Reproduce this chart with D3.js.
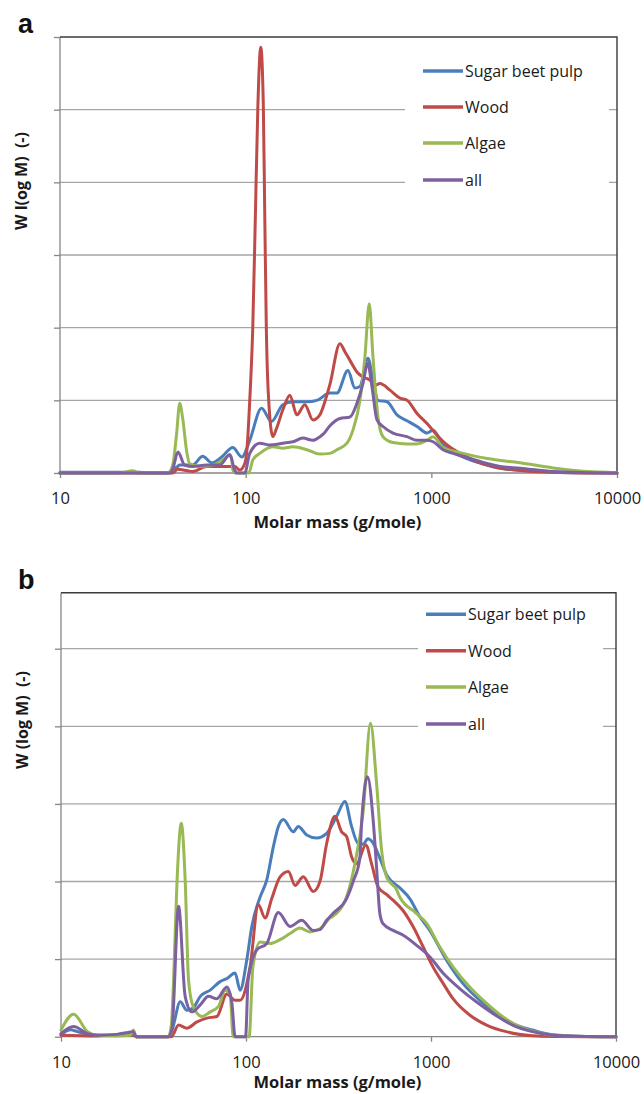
<!DOCTYPE html>
<html>
<head>
<meta charset="utf-8">
<script src="https://cdn.jsdelivr.net/npm/d3@7"></script>
<style>
  html, body { margin: 0; padding: 0; background: #fff; }
  svg { display: block; }
  text { white-space: pre; }
</style>
</head>
<body>
<svg id="chart" width="644" height="1094"></svg>
<script>
// ---------- data (M in g/mole, W(log M) in gridline units) ----------
const seriesNames = ["Sugar beet pulp", "Wood", "Algae", "all"];
const seriesColors = ["#4a7ebb", "#be4b48", "#98b954", "#7d60a0"];
const xTickValues = [10, 100, 1000, 10000];
const xTickLabels = ["10", "100", "1000", "10000"];
const panelLabels = ["a", "b"];
const yTitles = ["W l(og M)  (-)", "W (log M)  (-)"];
const xTitle = "Molar mass (g/mole)";

// panel a
const aSugar = [[10,0.01],[26.9,0.01],[30,0],[38,0],[40.4,0.05],[43,0.09],[44.1,0.11],[51.8,0.11],[58.7,0.23],[65.7,0.14],[74.3,0.22],[85.2,0.35],[95.3,0.22],[105.2,0.45],[121.7,0.89],[137.8,0.71],[158.6,0.94],[179.5,0.98],[213.6,0.98],[241.8,1.0],[284.3,1.1],[310.1,1.1],[355.4,1.41],[387.7,1.17],[412.5,1.19],[455.6,1.58],[484.8,1.28],[515.9,1.0],[576.9,0.98],[653.2,0.8],[739.6,0.72],[837.5,0.64],[948.5,0.55],[1022,0.59],[1157,0.385],[1310,0.29],[1618,0.18],[1998,0.11],[2348,0.065],[3009,0.04],[4534,0.012],[6918,0.003],[10000,0]];
const aWood = [[10,0],[38,0],[40.4,0],[43,0.05],[48.7,0.03],[51.8,0.02],[61.7,0.09],[79.1,0.09],[87.3,0.09],[92.9,0.04],[98.9,0.13],[101.4,0.3],[105.2,1.0],[109.2,2.0],[112.7,3.5],[116.2,5.0],[120.6,5.86],[124.4,5.1],[126.8,3.5],[129.2,2.0],[132.4,1.1],[140.1,0.5],[146,0.6],[158.6,0.87],[173,1.07],[188.7,0.8],[208.4,0.94],[230.1,0.73],[251,0.8],[260.6,0.9],[284.3,1.22],[321.9,1.78],[342.4,1.67],[364.4,1.55],[397.4,1.39],[428.2,1.32],[467,1.28],[497,1.21],[528.9,1.23],[598.8,1.14],[678,1.03],[739.6,1.0],[837.5,0.82],[948.5,0.68],[1074,0.52],[1216,0.385],[1429,0.27],[1765,0.155],[2348,0.07],[3009,0.035],[4534,0.01],[6918,0],[10000,0]];
const aAlgae = [[10,0],[20.9,0],[24.6,0.03],[26.9,0],[38,0],[40.4,0.1],[42.5,0.55],[44.1,0.96],[45.8,0.75],[48.1,0.3],[49.9,0.13],[56.6,0.09],[64,0.1],[72.5,0.15],[77.1,0.2],[82.1,0.25],[84.1,0.2],[85.2,0.05],[87.3,0],[104,0],[109.2,0.18],[119.2,0.27],[140.1,0.36],[158.6,0.34],[179.5,0.36],[213.6,0.32],[251,0.26],[284.3,0.27],[310.1,0.32],[351.1,0.41],[378.2,0.59],[412.5,1.0],[438.9,1.6],[463,2.33],[484.8,1.6],[515.9,0.77],[548.9,0.5],[621.5,0.42],[739.6,0.4],[837.5,0.4],[948.5,0.45],[1022,0.5],[1157,0.35],[1429,0.28],[1998,0.2],[3009,0.14],[4534,0.07],[6918,0.02],[10000,0.005]];
const aAll = [[10,0],[39,0],[40.4,0.05],[43.2,0.29],[46.9,0.11],[51.8,0.09],[61.7,0.11],[72.5,0.11],[82.1,0.25],[87.3,0.04],[89.5,0],[98.9,0],[105.2,0.27],[119.2,0.41],[134.9,0.385],[158.6,0.41],[179.5,0.43],[203.3,0.48],[230.1,0.45],[251,0.5],[260.6,0.53],[284.3,0.65],[321.9,0.75],[364.4,0.77],[397.4,0.96],[428.2,1.23],[454,1.51],[478.8,1.19],[509.5,0.73],[548.9,0.64],[621.5,0.55],[739.6,0.5],[837.5,0.45],[948.5,0.45],[1022,0.43],[1157,0.32],[1310,0.27],[1618,0.2],[1998,0.13],[2348,0.09],[3009,0.065],[4534,0.02],[6918,0.005],[10000,0]];

// panel b
const bSugar = [[10,0.03],[11.3,0.09],[11.7,0.08],[13.9,0.03],[15.7,0.02],[20,0.02],[23.7,0.04],[24.6,0.05],[25.5,0],[38,0],[40,0.1],[44.1,0.45],[47.9,0.34],[51.8,0.37],[56.6,0.52],[64,0.6],[72.5,0.71],[78.8,0.75],[87.3,0.82],[92.9,0.6],[101,0.99],[107.5,1.42],[119.2,1.8],[129.5,2.02],[140.6,2.45],[149.6,2.71],[159.1,2.8],[180.2,2.64],[191.7,2.71],[212.8,2.6],[241,2.56],[272.9,2.62],[309,2.84],[342.4,3.03],[372.1,2.71],[404,2.49],[430,2.48],[455.6,2.55],[484.8,2.5],[528.9,2.3],[576.9,2.08],[678,1.92],[767.7,1.78],[869,1.55],[984.6,1.37],[1211,0.99],[1483,0.69],[1832,0.47],[2254,0.3],[2759,0.17],[3537,0.086],[4534,0.026],[6918,0.004],[10000,0]];
const bWood = [[10,0.02],[15.7,0.01],[20,0.02],[24.6,0.02],[25.5,0],[38,0],[39.5,0],[43.2,0.15],[47.9,0.11],[54.3,0.19],[61.5,0.24],[69.6,0.26],[78.8,0.55],[87.3,0.47],[92.9,0.47],[105.2,0.9],[116.7,1.7],[126.8,1.53],[137.8,1.78],[152.8,2.06],[169.4,2.13],[184.1,1.95],[204,2.06],[230.9,1.87],[251,2.0],[272.9,2.49],[302.5,2.84],[328.7,2.64],[349.7,2.58],[372.1,2.32],[396,2.23],[444.5,2.47],[477,2.23],[517.8,1.93],[576.9,1.83],[624,1.76],[704,1.63],[800,1.42],[906,1.16],[1025,0.9],[1161,0.69],[1315,0.49],[1618,0.28],[1998,0.15],[2552,0.065],[3537,0.013],[4534,0.003],[10000,0]];
const bAlgae = [[10,0.086],[11.7,0.29],[13.9,0.065],[15.7,0.02],[20,0.01],[23.7,0.02],[24.6,0.086],[25.5,0],[38,0],[39.5,0.15],[40.6,0.73],[42.4,2.02],[44.7,2.75],[46.9,2.02],[48.9,0.73],[51.8,0.39],[57.8,0.26],[64,0.32],[71,0.39],[77.1,0.6],[82.1,0.55],[85.2,0],[104,0],[109,0.9],[119.2,1.22],[134.9,1.2],[152.8,1.25],[173,1.33],[195.9,1.4],[221.7,1.35],[251,1.39],[284.3,1.53],[309,1.59],[349.7,1.8],[387.7,2.23],[430,2.9],[471,4.04],[507.7,3.27],[540.3,2.41],[576.9,2.05],[650,1.9],[678,1.8],[834,1.59],[947,1.46],[1114,1.16],[1315,0.9],[1618,0.64],[1998,0.43],[2437,0.26],[3009,0.13],[3717,0.057],[4534,0.02],[6918,0.003],[10000,0]];
const bAll = [[10,0.04],[11.7,0.13],[13.9,0.04],[15.7,0.02],[20,0.03],[23.7,0.06],[24.6,0.065],[25.5,0],[38,0],[39.8,0.1],[43.2,1.68],[46.9,0.52],[51,0.32],[56.6,0.41],[62.7,0.52],[69.6,0.49],[78.8,0.64],[83.9,0.43],[87.3,0],[99.5,0],[102.7,0.73],[114.4,1.12],[129.5,1.2],[149.6,1.6],[173,1.42],[200,1.5],[230.9,1.37],[251,1.38],[272.9,1.5],[296,1.59],[349.7,1.78],[379.6,2.0],[412.5,2.3],[421.4,2.75],[454,3.35],[486.8,2.79],[507.7,2.19],[528.9,1.59],[548.9,1.46],[624,1.37],[704,1.31],[834,1.18],[984.6,1.03],[1161,0.82],[1429,0.62],[1758,0.45],[2160,0.3],[2759,0.15],[3537,0.065],[4551,0.02],[6918,0.003],[10000,0]];

const panelData = [[aSugar, aWood, aAlgae, aAll], [bSugar, bWood, bAlgae, bAll]];

// ---------- layout ----------
const panels = [
  { left: 60, right: 617, top: 37, bottom: 473, yMax: 6, ticks: [0,1,2,3,4,5,6], grid: [1,2,3,4,5],
    legend: { boxX: 405, boxW: 204, boxY: 52, boxH: 145, lineX1: 423, lineX2: 463, textX: 465, rows: [71,107,143,180] },
    labelX: 18, labelY: 33, yTitleX: 21, yTitleY: 181, tickLabelY: 504, xTitleY: 528 },
  { left: 61, right: 616, top: 592.7, bottom: 1036.7, yMax: 5.722, ticks: [0,1,2,3,4,5], grid: [1,2,3,4,5],
    legend: { boxX: 418, boxW: 185, boxY: 596, boxH: 145, lineX1: 426, lineX2: 466, textX: 468, rows: [614.3,650.7,687,724] },
    labelX: 18, labelY: 589, yTitleX: 22, yTitleY: 720, tickLabelY: 1068, xTitleY: 1088 }
];

const svg = d3.select("#chart");

panels.forEach((p, pi) => {
  const g = svg.append("g");
  const x = d3.scaleLog().domain([10, 10000]).range([p.left, p.right]);
  const y = d3.scaleLinear().domain([0, p.yMax]).range([p.bottom, p.top]);

  // gridlines
  g.append("g").selectAll("line").data(p.grid).join("line")
    .attr("x1", p.left).attr("x2", p.right)
    .attr("y1", d => y(d)).attr("y2", d => y(d))
    .attr("stroke", "#a6a6a6").attr("stroke-width", 1.3);

  // y axis (ticks only)
  const yAxis = g.append("g").attr("transform", `translate(${p.left},0)`)
    .call(d3.axisLeft(y).tickValues(p.ticks).tickSize(6).tickFormat(""));
  yAxis.selectAll("path,line").attr("stroke", "#868686").attr("stroke-width", 1.3);
  yAxis.select(".domain").attr("d", `M0,${p.bottom}V${p.top}`);

  // top and right frame
  g.append("path").attr("d", `M${p.left},${p.top}H${p.right}V${p.bottom}`)
    .attr("fill", "none").attr("stroke", "#3a3a3a").attr("stroke-width", 1.4);

  // x axis
  const xAxis = g.append("g").attr("transform", `translate(0,${p.bottom})`)
    .call(d3.axisBottom(x).tickValues(xTickValues).tickSize(5)
      .tickFormat((d, i) => xTickLabels[i]));
  xAxis.selectAll("path,line").attr("stroke", "#868686").attr("stroke-width", 1.3);
  xAxis.select(".domain").attr("d", `M${p.left},0H${p.right}`);
  xAxis.selectAll("text")
    .attr("y", p.tickLabelY - p.bottom).attr("dy", null)
    .attr("font-size", 16.5).attr("fill", "#1a1a1a").attr("font-family", "Open Sans, sans-serif");

  // series
  const line = d3.line().x(d => x(d[0])).y(d => y(d[1])).curve(d3.curveMonotoneX);
  panelData[pi].forEach((series, si) => {
    g.append("path").datum(series)
      .attr("d", line)
      .attr("fill", "none")
      .attr("stroke", seriesColors[si])
      .attr("stroke-width", 3)
      .attr("stroke-linejoin", "round")
      .attr("stroke-linecap", "round");
  });

  // legend
  const L = p.legend;
  g.append("rect").attr("x", L.boxX).attr("y", L.boxY).attr("width", L.boxW).attr("height", L.boxH)
    .attr("fill", "#fff");
  seriesNames.forEach((name, si) => {
    g.append("line").attr("x1", L.lineX1).attr("x2", L.lineX2)
      .attr("y1", L.rows[si]).attr("y2", L.rows[si])
      .attr("stroke", seriesColors[si]).attr("stroke-width", 3.5);
    g.append("text").attr("x", L.textX).attr("y", L.rows[si] + 6)
      .attr("font-family", "Open Sans, sans-serif").attr("font-size", 16)
      .attr("fill", "#1a1a1a").text(name);
  });

  // titles
  g.append("text").attr("x", (p.left + p.right) / 2 - 1).attr("y", p.xTitleY)
    .attr("text-anchor", "middle").attr("font-family", "Open Sans, sans-serif")
    .attr("font-weight", "bold").attr("font-size", 16.5).attr("fill", "#1a1a1a")
    .text(xTitle);
  g.append("text")
    .attr("transform", `translate(${p.yTitleX + 6},${p.yTitleY}) rotate(-90)`)
    .attr("text-anchor", "middle").attr("font-family", "Open Sans, sans-serif")
    .attr("font-weight", "bold").attr("font-size", 16).attr("fill", "#1a1a1a")
    .text(yTitles[pi]);
  g.append("text").attr("x", p.labelX).attr("y", p.labelY)
    .attr("font-family", "Liberation Sans, Arial, sans-serif").attr("font-weight", "bold")
    .attr("font-size", 27).attr("fill", "#111").text(panelLabels[pi]);
});
</script>
</body>
</html>
